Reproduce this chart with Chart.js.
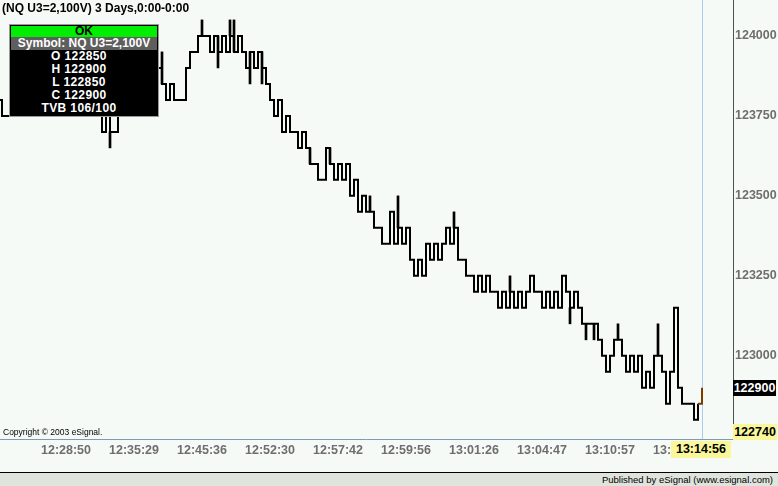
<!DOCTYPE html>
<html>
<head>
<meta charset="utf-8">
<script src="https://cdn.jsdelivr.net/npm/chart.js@4.4.0/dist/chart.umd.min.js"></script>
<style>
body { margin: 0; background: #f6faf6; }
#wrap { position: relative; width: 778px; height: 486px; overflow: hidden; background: #f6faf6; font-family: 'Liberation Sans', Arial, sans-serif; }
#c { position: absolute; left: 0; top: 0; }
.ov { position: absolute; white-space: nowrap; }
#title { left: 2px; top: 1px; font-size: 12px; font-weight: bold; color: #000; }
#box { left: 9px; top: 24px; width: 150px; height: 93px; background: #000; border: 1px solid #9a9a9a; box-sizing: border-box; font-size: 12px; font-weight: bold; color: #fff; }
#box .ok { margin: 1px 1px 0 1px; height: 11px; line-height: 11px; background: #00ee00; color: #000; text-align: center; }
#box .sym { margin: 0 1px; height: 13px; line-height: 13px; background: #5e5e5e; text-align: center; }
#box .row { height: 13px; line-height: 13px; text-align: center; padding-right: 10px; letter-spacing: 0.4px; }
.nar { font-family: 'Liberation Sans', Arial, sans-serif; font-weight: bold; font-size: 12.5px; text-align: center; }
#last { left: 733px; top: 380px; width: 43px; height: 16px; line-height: 16px; background: #000; color: #fff; }
#low { left: 733px; top: 424px; width: 44px; height: 16px; line-height: 16px; background: #faf79b; color: #000; }
#lastTime { left: 671px; top: 441px; width: 60px; height: 17px; line-height: 17px; background: #faf79b; color: #000; }
#copy { left: 3px; top: 427px; font-size: 8.5px; color: #000; }
#rule { left: 0; top: 472px; width: 778px; height: 1px; background: #000; }
#foot { left: 0; top: 473px; width: 778px; height: 13px; background: #dfe4dd; font-size: 9.5px; line-height: 13px; text-align: right; color: #000; }
#foot span { padding-right: 5px; }
</style>
</head>
<body>
<div id="wrap">
  <canvas id="c" width="778" height="486"></canvas>
  <div class="ov" id="title">(NQ U3=2,100V) 3 Days,0:00-0:00</div>
  <div class="ov" id="box">
    <div class="ok">OK</div>
    <div class="sym">Symbol: NQ U3=2,100V</div>
    <div class="row">O 122850</div>
    <div class="row">H 122900</div>
    <div class="row">L 122850</div>
    <div class="row">C 122900</div>
    <div class="row">TVB 106/100</div>
  </div>
  <div class="ov nar" id="last">122900</div>
  <div class="ov nar" id="low">122740</div>
  <div class="ov nar" id="lastTime">13:14:56</div>
  <div class="ov" id="copy">Copyright © 2003 eSignal.</div>
  <div class="ov" id="rule"></div>
  <div class="ov" id="foot"><span>Published by eSignal (www.esignal.com)</span></div>
</div>
<script>
"use strict";

// one value per bar (stepped close path)
const prices = [
  123800, 123750, 123750,
  // under the data box
  123800, 123850, 123800, 123850, 123900, 123850, 123900, 123950, 123900, 123850,
  123900, 123850, 123800, 123850, 123900, 123850, 123800, 123850, 123800, 123850,
  123800, 123850, 123800,
  123700, 123800, 123700, 123700, 123800,
  123850, 123900, 123850, 123800, 123850, 123900, 123950, 123900, 123850,
  // visible again
  123900, 123850, 123800, 123850, 123800, 123800, 123800, 123900, 123950, 123950,
  124000, 124000, 124000, 123950, 124000, 123950, 124000, 123950, 124000, 123950,
  124000, 123950, 123900, 123950, 123900, 123950, 123900, 123850, 123800, 123750,
  123800, 123700, 123750, 123700, 123700, 123650, 123700, 123650, 123600, 123600,
  123550, 123550, 123650, 123600, 123550, 123600, 123550, 123600, 123500, 123550,
  123450, 123500, 123450, 123450, 123400, 123400, 123350, 123350, 123450, 123350,
  123400, 123350, 123400, 123300, 123250, 123300, 123250, 123350, 123300, 123350,
  123300, 123350, 123400, 123350, 123400, 123300, 123300, 123250, 123250, 123200,
  123250, 123200, 123250, 123200, 123200, 123150, 123200, 123150, 123200, 123150,
  123200, 123150, 123200, 123250, 123200, 123200, 123150, 123200, 123150, 123200,
  123150, 123250, 123200, 123150, 123200, 123150, 123100, 123100, 123100, 123100,
  123050, 123000, 122950, 123000, 123050, 123050, 123000, 122950, 123000, 122950,
  123000, 122900, 122950, 122900, 123000, 123000, 122950, 122850, 122950, 123150,
  122900, 122850, 122850, 122850, 122800, 122850, 122900
];

// single-bar spikes (bar index, low, high)
const wickAt   = [28, 41, 51, 55, 58, 59, 63, 66, 78, 83, 93, 100, 114, 128, 143, 147, 149, 155, 165];
const wickLow  = [123650, 123850, 124000, 123900, 124000, 123950, 123850, 123850, 123600, 123600, 123450, 123400, 123400, 123200, 123100, 123050, 123050, 123050, 123000];
const wickHigh = [123700, 123950, 124050, 124000, 124050, 124050, 123950, 123950, 123650, 123650, 123500, 123500, 123450, 123250, 123150, 123100, 123100, 123100, 123100];

const tickIdx = [17, 34, 51, 68, 85, 102, 119, 136, 153, 170];
const times = ['12:28:50', '12:35:29', '12:45:36', '12:52:30', '12:57:42', '12:59:56', '13:01:26', '13:04:47', '13:10:57', '13:13:02'];
const yTicks = [123000, 123250, 123500, 123750, 124000];

const AXIS_FONT = { family: "'Liberation Sans', Arial, sans-serif", size: 12.5, weight: 'bold' };

const frame = {
  id: 'frame',
  beforeDatasetsDraw(ch) {
    const { ctx, chartArea: a, scales: { x } } = ch;
    const cx = Math.round(x.getPixelForValue(prices.length - 1)) + 0.5;
    ctx.save();
    ctx.strokeStyle = '#a8ccf0';
    ctx.lineWidth = 1;
    ctx.beginPath();
    ctx.moveTo(cx, 0);
    ctx.lineTo(cx, a.bottom);
    ctx.stroke();
    ctx.restore();
  },
  afterDraw(ch) {
    const { ctx, chartArea: a } = ch;
    ctx.save();
    ctx.lineWidth = 1;
    ctx.strokeStyle = '#7d9bb9';
    ctx.beginPath();
    ctx.moveTo(0, a.bottom + 0.5);
    ctx.lineTo(a.right, a.bottom + 0.5);
    ctx.stroke();
    ctx.strokeStyle = '#505050';
    ctx.beginPath();
    ctx.moveTo(a.right + 0.5, 0);
    ctx.lineTo(a.right + 0.5, a.bottom + 1);
    ctx.stroke();
    ctx.restore();
  }
};

new Chart(document.getElementById('c'), {
  type: 'line',
  data: {
    datasets: [{
      type: 'line',
      data: prices.map((v, i) => ({ x: i, y: v })),
      stepped: true,
      borderColor: '#000',
      borderWidth: 2,
      pointRadius: 0,
      fill: false,
      segment: { borderColor: c => c.p1DataIndex === prices.length - 1 ? '#7a3c00' : undefined },
      order: 1
    }, {
      type: 'bar',
      data: wickAt.map((x, k) => ({ x: x, y: [wickLow[k], wickHigh[k]] })),
      backgroundColor: '#000',
      barThickness: 2,
      order: 2
    }]
  },
  options: {
    responsive: false,
    animation: false,
    layout: { padding: { top: 18 } },
    plugins: { legend: { display: false }, tooltip: { enabled: false } },
    scales: {
      x: {
        type: 'linear',
        offset: false,
        min: 0.5,
        max: 183.75,
        grid: { display: false, drawTicks: false, offset: false },
        border: { display: false },
        afterBuildTicks: s => { s.ticks = tickIdx.map(v => ({ value: v })); },
        afterFit: s => { s.height = 47; },
        ticks: {
          autoSkip: false, maxRotation: 0, padding: 4, color: '#6e6e6e',
          font: AXIS_FONT,
          callback: (v, i) => times[i]
        }
      },
      y: {
        position: 'right',
        min: 122740,
        max: 124056,
        grid: { display: false, drawTicks: false },
        border: { display: false },
        afterBuildTicks: s => { s.ticks = yTicks.map(v => ({ value: v })); },
        afterFit: s => { s.width = 45; },
        ticks: {
          padding: 2, color: '#6e6e6e',
          font: AXIS_FONT,
          callback: v => String(v)
        }
      }
    }
  },
  plugins: [frame]
});
</script>
</body>
</html>
